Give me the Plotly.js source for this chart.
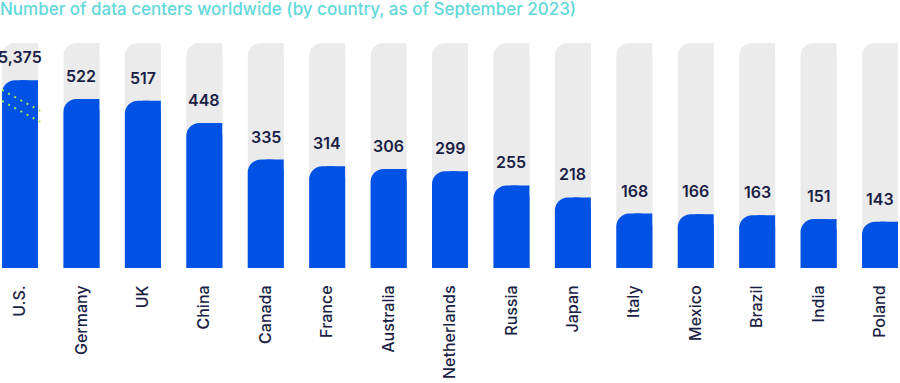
<!DOCTYPE html>
<html>
<head>
<meta charset="utf-8">
<script src="https://cdn.plot.ly/plotly-3.0.1.min.js"></script>
<style>
  html, body { margin: 0; padding: 0; background: #ffffff; }
  #chart { width: 900px; height: 383px; }
</style>
</head>
<body>
<div id="chart"></div>
<script>
// ---- data ----
const countries = ["U.S.", "Germany", "UK", "China", "Canada", "France", "Australia", "Netherlands", "Russia", "Japan", "Italy", "Mexico", "Brazil", "India", "Poland"];
const dataCenters = [5375, 522, 517, 448, 335, 314, 306, 299, 255, 218, 168, 166, 163, 151, 143];
const titleText = "Number of data centers worldwide (by country, as of September 2023)";

// ---- display settings ----
const axisMax = 695;      // height of the grey track
const breakCap = 580;     // U.S. bar is drawn broken at this height
const barWidth = 0.586;
const blue = "#0052E4";
const grey = "#EBEBEB";
const navy = "#1B1E45";
const font = "Inter, 'Open Sans', sans-serif";
const xRange = [-0.3256, 14.3256];

const idx = countries.map((_, i) => i);
const shown = dataCenters.map(v => Math.min(v, breakCap));
const track = countries.map(() => axisMax);

// each layer on its own overlaid x axis so the rounding of one does not affect the others
function layer(y, color, half, axis) {
  return {
    type: "bar", x: idx, y: y, xaxis: axis, yaxis: "y",
    width: half ? barWidth / 2 : barWidth,
    offset: half ? 0 : -barWidth / 2,
    marker: { color: color, cornerradius: half ? 0 : 13, line: { width: 0 } },
    hoverinfo: "skip"
  };
}

const traces = [
  layer(track, grey, false, "x"),
  layer(track, grey, true, "x2"),
  layer(shown, blue, false, "x3"),
  layer(shown, blue, true, "x4")
];

const annotations = idx.map(i => ({
  x: i, y: shown[i], xref: "x", yref: "y",
  text: dataCenters[i].toLocaleString("en-US"),
  showarrow: false, yanchor: "bottom", yshift: 11,
  font: { family: font, size: 16, color: navy, weight: 600 }
}));

const breakColor = "#A6E45C";
const shapes = [30, 64].map(off => ({
  type: "line", xref: "x", yref: "y",
  x0: -barWidth / 2, x1: barWidth / 2 + 0.04,
  y0: breakCap - off, y1: breakCap - off - 65,
  line: { color: breakColor, width: 2, dash: "2px,5px" }
}));

const hiddenX = { type: "linear", range: xRange, overlaying: "x", anchor: "y", visible: false, fixedrange: true };

const layout = {
  width: 900, height: 383,
  margin: { l: 0, r: 0, t: 43, b: 115, pad: 0 },
  paper_bgcolor: "#ffffff", plot_bgcolor: "#ffffff",
  barmode: "overlay",
  showlegend: false,
  title: {
    text: titleText, x: 0, xanchor: "left", xref: "paper",
    y: 1, yanchor: "top", yref: "container", pad: { t: 3, l: 0 },
    font: { family: font, size: 17, color: "#62D8DA", weight: 500 }
  },
  xaxis: {
    type: "linear", range: xRange,
    tickvals: idx, ticktext: countries, tickangle: -90,
    ticks: "outside", ticklen: 10, tickcolor: "rgba(0,0,0,0)",
    showgrid: false, zeroline: false, showline: false, fixedrange: true,
    tickfont: { family: font, size: 16, color: navy, weight: 500 }
  },
  xaxis2: hiddenX,
  xaxis3: hiddenX,
  xaxis4: hiddenX,
  yaxis: {
    range: [0, axisMax], visible: false, showgrid: false, zeroline: false, fixedrange: true
  },
  annotations: annotations,
  shapes: shapes
};

Plotly.newPlot("chart", traces, layout, { displayModeBar: false, staticPlot: true });
</script>
</body>
</html>
